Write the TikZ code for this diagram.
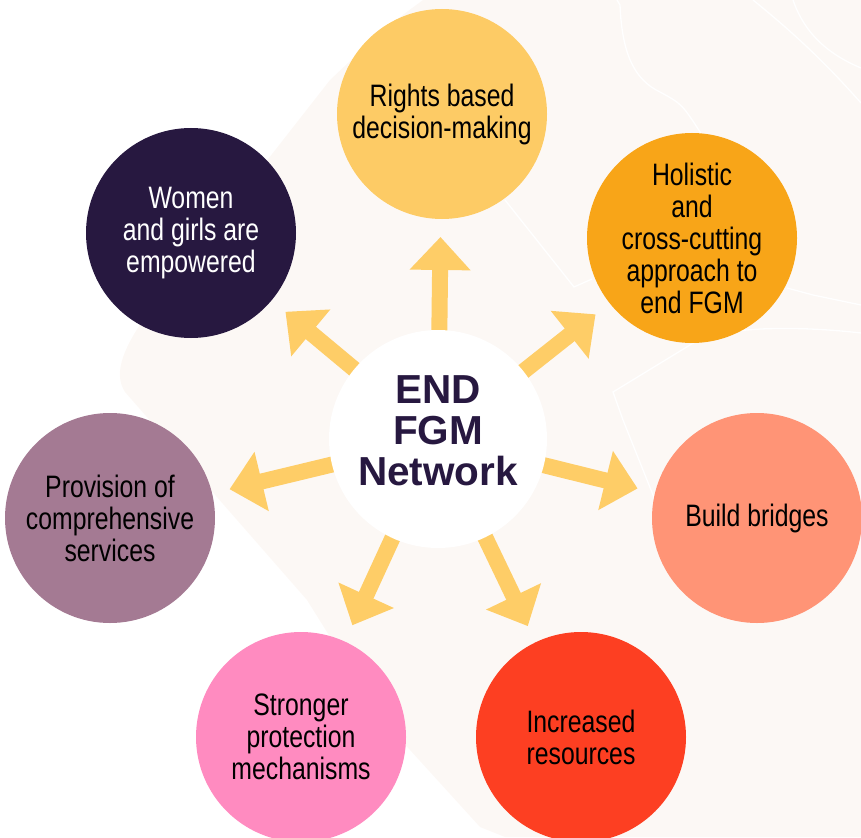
\documentclass[tikz,border=0pt]{standalone}
\usepackage{fontspec}
\setmainfont{Liberation Sans}
\newfontfamily\narrowfont{Liberation Sans}[FakeStretch=0.8]
\usetikzlibrary{arrows.meta}

\definecolor{fgmpurple}{HTML}{271840}
\definecolor{fgmyellow}{HTML}{FDCB65}
\definecolor{fgmorange}{HTML}{F8A518}
\definecolor{fgmmauve}{HTML}{A47A93}
\definecolor{fgmsalmon}{HTML}{FF9476}
\definecolor{fgmpink}{HTML}{FF8BC0}
\definecolor{fgmred}{HTML}{FD3F22}
\definecolor{spokecolor}{HTML}{FECD67}
\definecolor{mapcolor}{HTML}{FCF8F5}

\pgfdeclarelayer{front}
\pgfsetlayers{main,front}

\begin{document}
\begin{tikzpicture}[x=1pt,y=-1pt]

\tikzset{
  goal/.style={circle, minimum size=210pt, inner sep=0pt, align=center, text=black,
    font=\narrowfont\fontsize{31}{32}\selectfont},
  hub/.style={circle, fill=white, minimum size=218pt, inner sep=0pt},
  hubtext/.style={align=center, text=fgmpurple, font=\bfseries\fontsize{40.5}{41}\selectfont},
  spoke/.style={draw=spokecolor, line width=16pt, -{Triangle[width=59pt,length=33pt]},
    shorten <=90pt, shorten >=123pt},
  border/.style={draw=white, line width=1.3pt},
}

\clip (0,0) rectangle (861,837);

\fill[mapcolor] (423,0) .. controls (385,28) .. (330,80) -- (150,310)
  .. controls (125,345) and (112,372) .. (125,392) -- (307,600) -- (380,717)
  -- (480,827) -- (505,837) -- (861,837) -- (861,0) -- cycle;
\draw[border] (617,0) -- (620,5) .. controls (622,55) and (635,80) .. (660,92)
  .. controls (682,104) .. (702,135);
\draw[border] (753,0) .. controls (800,38) and (830,68) .. (861,103);
\draw[border] (793,0) .. controls (805,35) and (830,55) .. (861,68);
\draw[border] (505,200) -- (574,287) -- (592,279);
\draw[border] (787,288) -- (813,295) -- (861,305);
\draw[border] (861,333) .. controls (800,326) and (720,325) .. (690,345)
  -- (613,392) -- (623,420) -- (655,500);

\begin{pgfonlayer}{front}
\node[hub] (hub) at (438,439) {};
\node[hubtext] (hublabel) at (438,431) {END\\FGM\\Network};
\end{pgfonlayer}

\node[goal, fill=fgmyellow] (rights) at (442,114) {Rights based\\decision-making};
\draw[spoke] (hub.center) -- (rights.center);

\node[goal, fill=fgmorange] (holistic) at (692,238) {Holistic\\and\\cross-cutting\\approach to\\end FGM};
\draw[spoke] (hub.center) -- (holistic.center);

\node[goal, fill=fgmsalmon] (bridges) at (757,518) {Build bridges};
\draw[spoke] (hub.center) -- (bridges.center);

\node[goal, fill=fgmred] (resources) at (581,737) {Increased\\resources};
\draw[spoke] (hub.center) -- (resources.center);

\node[goal, fill=fgmpink] (protection) at (301,737) {Stronger\\protection\\mechanisms};
\draw[spoke] (hub.center) -- (protection.center);

\node[goal, fill=fgmmauve] (services) at (110,518) {Provision of\\comprehensive\\services};
\draw[spoke] (hub.center) -- (services.center);

\node[goal, fill=fgmpurple, text=white] (women) at (191,233) {Women\\and girls are\\empowered};
\draw[spoke] (hub.center) -- (women.center);

\end{tikzpicture}
\end{document}
